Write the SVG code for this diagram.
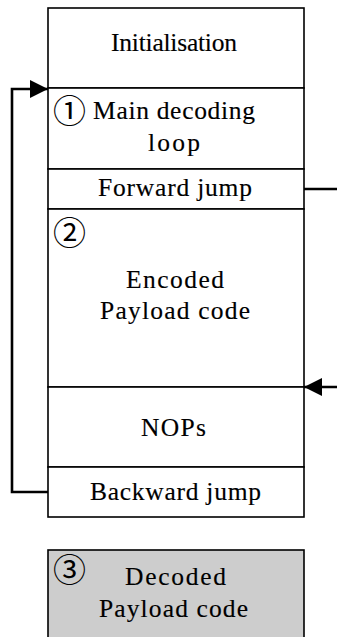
<svg xmlns="http://www.w3.org/2000/svg" width="337" height="637" viewBox="0 0 337 637">
<style>
.box{fill:#ffffff;stroke:#000000;stroke-width:1.6}
.grey{fill:#cdcdcd;stroke:#000000;stroke-width:1.6}
.lbl{font-family:"Liberation Serif","Times New Roman",serif;font-size:25.5px;fill:#000000;stroke:#000000;stroke-width:0.15}
.num{font-family:"Noto Sans CJK JP","DejaVu Sans",sans-serif;font-size:33px;fill:#000000}
.conn{fill:none;stroke:#000000;stroke-width:2.6}
</style>
<defs>
<marker id="arrow" markerUnits="userSpaceOnUse" markerWidth="18" markerHeight="18" refX="18" refY="9" orient="auto" viewBox="0 0 18 18">
<path d="M0,0 L18,9 L0,18 z" fill="#000000"/>
</marker>
</defs>
<rect width="337" height="637" fill="#ffffff"/>
<g id="initialisation">
<rect class="box" x="48" y="8" width="256" height="80"/>
<text class="lbl" x="111" y="51" textLength="126" lengthAdjust="spacing">Initialisation</text>
</g>
<g id="main-loop">
<rect class="box" x="48" y="88" width="256" height="81"/>
<text class="num" x="69.5" y="109" text-anchor="middle" dominant-baseline="central">①</text>
<text class="lbl" x="93" y="119" textLength="162" lengthAdjust="spacing">Main decoding</text>
<text class="lbl" x="148" y="151" textLength="52" lengthAdjust="spacing">loop</text>
</g>
<g id="forward-jump">
<rect class="box" x="48" y="169" width="256" height="40"/>
<text class="lbl" x="98" y="196" textLength="154" lengthAdjust="spacing">Forward jump</text>
</g>
<g id="encoded-payload">
<rect class="box" x="48" y="209" width="256" height="178"/>
<text class="num" x="69.5" y="231" text-anchor="middle" dominant-baseline="central">②</text>
<text class="lbl" x="126" y="288" textLength="98" lengthAdjust="spacing">Encoded</text>
<text class="lbl" x="100" y="319" textLength="150" lengthAdjust="spacing">Payload code</text>
</g>
<g id="nops">
<rect class="box" x="48" y="387" width="256" height="80"/>
<text class="lbl" x="141" y="436" textLength="65" lengthAdjust="spacing">NOPs</text>
</g>
<g id="backward-jump">
<rect class="box" x="48" y="467" width="256" height="50"/>
<text class="lbl" x="90" y="500" textLength="171" lengthAdjust="spacing">Backward jump</text>
</g>
<g id="decoded-payload">
<rect class="grey" x="48" y="550" width="256" height="100"/>
<text class="num" x="69.5" y="568" text-anchor="middle" dominant-baseline="central">③</text>
<text class="lbl" x="125" y="585" textLength="101" lengthAdjust="spacing">Decoded</text>
<text class="lbl" x="99" y="617" textLength="149" lengthAdjust="spacing">Payload code</text>
</g>
<g id="connectors">
<path class="conn" d="M48,492 H12 V89 H48" marker-end="url(#arrow)"/>
<path class="conn" d="M304,189 H337"/>
<path class="conn" d="M337,387 H304" marker-end="url(#arrow)"/>
</g>
</svg>
